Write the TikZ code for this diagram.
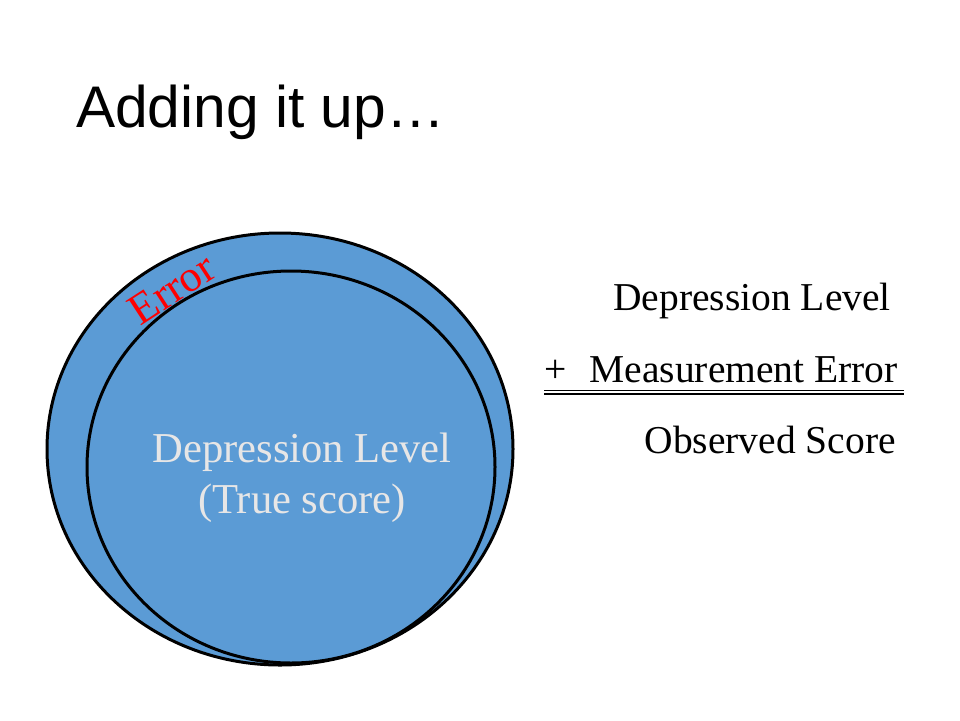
\documentclass[tikz,border=0pt]{standalone}
\usepackage{fontspec}
\setmainfont{Liberation Serif}
\newfontfamily\titlefont{Liberation Sans}
\definecolor{circblue}{HTML}{5B9BD5}
\definecolor{lighttext}{HTML}{E7E6E6}
\begin{document}
\begin{tikzpicture}[x=1pt,y=-1pt,
  circ/.style={fill=circblue,draw=black,line width=3pt},
  eqtext/.style={inner sep=0pt,font=\fontsize{39.5}{44}\selectfont},
  intext/.style={inner sep=0pt,text=lighttext,font=\fontsize{42.6}{50}\selectfont}]
\useasboundingbox[fill=white] (0,0) rectangle (960,720);
\node[inner sep=0pt,anchor=base west,font=\titlefont\fontsize{58.7}{64}\selectfont] (title) at (76,127) {Adding it up…};
\draw[circ] (280,449) ellipse [x radius=233,y radius=216];
\draw[circ] (291,467) ellipse [x radius=204,y radius=196];
\node[inner sep=0pt,text=red,rotate=33,font=\fontsize{44}{48}\selectfont] (err) at (172,289) {Error};
\node[intext,anchor=base] (dl) at (302,462) {Depression Level};
\node[intext,anchor=base] (ts) at (302,513) {(True score)};
\node[eqtext,anchor=base east] (r1) at (891,310) {Depression Level};
\node[eqtext,anchor=base east] (r2) at (898,382) {Measurement Error};
\node[eqtext,anchor=base west] (plus) at (544,382) {+};
\node[eqtext,anchor=base east] (r3) at (896,453) {Observed Score};
\draw[line width=1.3pt] (544,390.5) -- (904,390.5);
\draw[line width=2.4pt] (544,394) -- (904,394);
\end{tikzpicture}
\end{document}
